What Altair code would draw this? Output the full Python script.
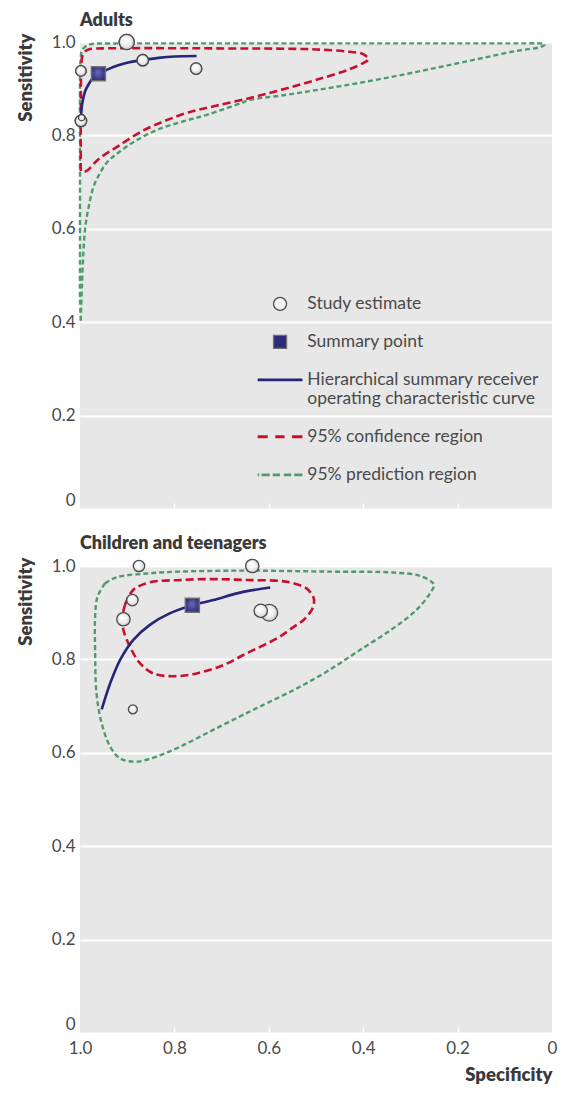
import altair as alt
import pandas as pd

SERIES = ["Study estimate", "Summary point",
          "Hierarchical summary receiver operating characteristic curve",
          "95% confidence region", "95% prediction region"]
TICKS = [1.0, 0.8, 0.6, 0.4, 0.2, 0.0]

# ---------------- Adults ----------------
adult_study_spec = [0.901, 0.867, 0.754, 0.998, 0.998, 0.9965]
adult_study_sens = [1.000, 0.961, 0.943, 0.938, 0.831, 0.838]
adult_study_weight = [23, 13, 13, 11, 13, 4]
adult_summary_spec = [0.961]
adult_summary_sens = [0.932]
adult_curve_spec = [0.998, 0.995, 0.989, 0.982, 0.975, 0.968, 0.961, 0.940, 0.919,
                    0.898, 0.869, 0.834, 0.799, 0.753]
adult_curve_sens = [0.838, 0.870, 0.895, 0.909, 0.920, 0.927, 0.932, 0.942, 0.950,
                    0.956, 0.961, 0.966, 0.969, 0.970]
adult_conf_spec = [0.9985, 0.9985, 0.9985, 0.998, 0.997, 0.995, 0.989, 0.982, 0.968,
                   0.941, 0.850, 0.746, 0.650, 0.570, 0.499, 0.428, 0.400, 0.389,
                   0.400, 0.428, 0.499, 0.569, 0.640, 0.714, 0.771, 0.820, 0.869,
                   0.919, 0.961, 0.986, 0.996, 0.9985]
adult_conf_sens = [0.724, 0.780, 0.831, 0.916, 0.955, 0.970, 0.980, 0.984, 0.986,
                   0.9865, 0.9868, 0.9865, 0.986, 0.9857, 0.984, 0.979, 0.974, 0.963,
                   0.955, 0.942, 0.919, 0.899, 0.880, 0.863, 0.849, 0.831, 0.809,
                   0.777, 0.749, 0.724, 0.722, 0.724]
adult_pred_spec = [0.9985, 1.0, 1.0, 1.0, 1.0, 0.999, 0.996, 0.989, 0.975, 0.936,
                   0.800, 0.534, 0.300, 0.068, 0.025, 0.015, 0.025, 0.075, 0.146,
                   0.216, 0.287, 0.357, 0.428, 0.499, 0.569, 0.640, 0.657, 0.728,
                   0.778, 0.834, 0.883, 0.919, 0.943, 0.961, 0.972, 0.982, 0.989,
                   0.993, 0.996, 0.9985]
adult_pred_sens = [0.403, 0.450, 0.552, 0.767, 0.916, 0.959, 0.981, 0.990, 0.9957,
                   0.9968, 0.997, 0.997, 0.997, 0.997, 0.997, 0.995, 0.989, 0.981,
                   0.966, 0.951, 0.936, 0.922, 0.909, 0.897, 0.886, 0.876, 0.870,
                   0.845, 0.831, 0.813, 0.788, 0.763, 0.742, 0.713, 0.688, 0.645,
                   0.602, 0.546, 0.474, 0.403]

# ---------------- Children and teenagers ----------------
child_study_spec = [0.875, 0.635, 0.889, 0.908, 0.888, 0.599, 0.617]
child_study_sens = [1.000, 1.000, 0.927, 0.886, 0.693, 0.900, 0.904]
child_study_weight = [13, 18, 13, 18, 8, 28, 18]
child_summary_spec = [0.762]
child_summary_sens = [0.916]
child_curve_spec = [0.954, 0.936, 0.915, 0.887, 0.852, 0.809, 0.762, 0.718, 0.661, 0.597]
child_curve_sens = [0.693, 0.749, 0.799, 0.842, 0.874, 0.899, 0.916, 0.927, 0.943, 0.954]
child_conf_spec = [0.905, 0.887, 0.852, 0.788, 0.718, 0.647, 0.576, 0.548, 0.520, 0.506,
                   0.504, 0.509, 0.527, 0.548, 0.581, 0.647, 0.696, 0.753, 0.802, 0.845,
                   0.873, 0.894, 0.908, 0.910, 0.905]
child_conf_sens = [0.916, 0.949, 0.965, 0.970, 0.972, 0.970, 0.968, 0.963, 0.952, 0.934,
                   0.924, 0.906, 0.884, 0.869, 0.846, 0.813, 0.788, 0.770, 0.764, 0.770,
                   0.792, 0.827, 0.863, 0.891, 0.916]
child_pred_spec = [0.947, 0.922, 0.859, 0.788, 0.682, 0.619, 0.477, 0.336, 0.280, 0.255,
                   0.250, 0.258, 0.287, 0.336, 0.407, 0.477, 0.548, 0.619, 0.647, 0.718,
                   0.788, 0.838, 0.880, 0.915, 0.936, 0.954, 0.965, 0.968, 0.968, 0.963,
                   0.947]
child_pred_sens = [0.963, 0.976, 0.984, 0.988, 0.990, 0.990, 0.988, 0.986, 0.979, 0.966,
                   0.959, 0.942, 0.906, 0.867, 0.820, 0.774, 0.734, 0.699, 0.685, 0.649,
                   0.613, 0.592, 0.581, 0.588, 0.613, 0.663, 0.727, 0.820, 0.891, 0.934,
                   0.963]

# ---------------- styling ----------------
BG = "#e7e7e7"
NAVY = "#25257a"
RED = "#c8102e"
GREEN = "#4f9b6f"
TXT = "#4a4a4a"
TTL = "#3a3a3a"
FONT = "Lato"
TW = 800

LABEL_EXPR = "datum.value == 0 ? '0' : format(datum.value, '.1f')"
TICK_COLOR = {"condition": {"test": "datum.value == 0 || datum.value == 1",
                            "value": "transparent"}, "value": "white"}
Y_BASELINE = {"condition": {"test": "datum.value == 0", "value": "bottom"},
              "value": "middle"}

# legend symbol shapes (custom symbol paths in the unit square)
NAVY_PATH = "M-3.43,-0.22H3.43V0.22H-3.43Z"
RED_PATH = ("M-3.43,-0.23H-1.89V0.23H-3.43Z M-0.73,-0.23H0.69V0.23H-0.73Z "
            "M1.83,-0.23H3.43V0.23H1.83Z")
GREEN_PATH = ("M-3.43,-0.21H-3.21V0.21H-3.43Z M-2.85,-0.21H-1.59V0.21H-2.85Z "
              "M-1.13,-0.21H0V0.21H-1.13Z M0.58,-0.21H1.72V0.21H0.58Z "
              "M2.17,-0.21H3.43V0.21H2.17Z")

SPHERE = alt.RadialGradient(
    gradient="radial", x1=0.4, y1=0.35, r1=0, x2=0.5, y2=0.5, r2=0.6,
    stops=[alt.GradientStop(offset=0, color="#ffffff"),
           alt.GradientStop(offset=0.5, color="#f1f1f1"),
           alt.GradientStop(offset=1, color="#b9b9b9")])
NAVY_GRAD = alt.RadialGradient(
    gradient="radial", x1=0.45, y1=0.4, r1=0, x2=0.5, y2=0.5, r2=0.7,
    stops=[alt.GradientStop(offset=0, color="#6a6ab8"),
           alt.GradientStop(offset=1, color="#1c1c66")])


def path_df(spec, sens):
    return pd.DataFrame({"spec": spec, "sens": sens, "order": list(range(len(spec)))})


def study_df(spec, sens, weight):
    return pd.DataFrame({"spec": spec, "sens": sens, "weight": weight,
                         "series": [SERIES[0]] * len(spec)})


def y_enc():
    return alt.Y("sens:Q", scale=alt.Scale(domain=[0, 1], nice=False, zero=False),
                 axis=alt.Axis(values=TICKS, labelExpr=LABEL_EXPR, labelBaseline=Y_BASELINE,
                               labelPadding=5, ticks=False, domain=False, grid=True,
                               gridColor="white", gridWidth=2, labelFontSize=17,
                               labelColor=TXT, labelFont=FONT,
                               title="Sensitivity", titleAngle=270, titleX=-55, titleY=-9,
                               titleAlign="right", titleBaseline="middle",
                               titleFontSize=18.5, titleFontWeight=TW,
                               titleColor=TTL, titleFont=FONT))


def x_enc(show_labels):
    common = dict(values=TICKS, offset=-6, tickSize=6, tickWidth=1.5,
                  tickColor=TICK_COLOR, domain=False, grid=False)
    if show_labels:
        axis = alt.Axis(labelExpr=LABEL_EXPR, labelPadding=7, labelFlush=False,
                        labelFontSize=17, labelColor=TXT, labelFont=FONT,
                        title="Specificity", titleAnchor="start", titleAlign="right",
                        titlePadding=9,
                        titleFontSize=18.5, titleFontWeight=TW, titleColor=TTL,
                        titleFont=FONT, **common)
    else:
        axis = alt.Axis(labels=False, title=None, **common)
    return alt.X("spec:Q", scale=alt.Scale(domain=[0, 1], reverse=True, nice=False,
                                           zero=False), axis=axis)


SIZE = alt.Size("weight:Q", scale=alt.Scale(domain=[0, 30], range=[0, 300]), legend=None)


def panel(title, title_offset, pred, conf, curve, studies, summary, show_labels,
          with_legend):
    X = x_enc(show_labels)
    Y = y_enc()
    pred_l = alt.Chart(pred).mark_line(color=GREEN, strokeDash=[5, 3], strokeWidth=2.4,
                                       interpolate="catmull-rom").encode(X, Y, order="order:Q")
    conf_l = alt.Chart(conf).mark_line(color=RED, strokeDash=[8, 4], strokeWidth=2.6,
                                       interpolate="catmull-rom").encode(X, Y, order="order:Q")
    curve_l = alt.Chart(curve).mark_line(color=NAVY, strokeWidth=2.6,
                                         interpolate="catmull-rom").encode(X, Y, order="order:Q")
    layers = [pred_l, conf_l, curve_l]
    if with_legend:
        leg = alt.Legend(title=None, orient="none", legendX=191.3, legendY=253.1,
                         padding=0, offset=0, symbolSize=170, symbolStrokeWidth=1.3,
                         symbolOpacity=1, labelFont=FONT, labelFontSize=17.5,
                         labelColor=TXT, labelOffset=18.5, labelLimit=400, rowPadding=19,
                         labelBaseline="middle",
                         labelExpr="datum.value == '" + SERIES[2] + "' ? "
                                   "['Hierarchical summary receiver', "
                                   "'operating characteristic curve'] : datum.label")
        flat = alt.Chart(studies).mark_point(filled=True, opacity=1, strokeWidth=1.3).encode(
            X, Y, SIZE,
            shape=alt.Shape("series:N", legend=leg, scale=alt.Scale(
                domain=SERIES, range=["circle", "square", NAVY_PATH, RED_PATH, GREEN_PATH])),
            fill=alt.Fill("series:N", legend=leg, scale=alt.Scale(
                domain=SERIES, range=["#f2f2f2", "#2b2b7a", NAVY, RED, GREEN])),
            stroke=alt.Stroke("series:N", legend=leg, scale=alt.Scale(
                domain=SERIES, range=["#4a4a4a", "#707070", "transparent",
                                      "transparent", "transparent"])))
        layers.append(flat)
    grad = alt.Chart(studies).mark_point(shape="circle", filled=True, opacity=1,
                                         fill=SPHERE, stroke="#4a4a4a",
                                         strokeWidth=1.3).encode(X, Y, SIZE)
    summ = alt.Chart(summary).mark_point(shape="square", filled=True, opacity=1,
                                         fill=NAVY_GRAD, stroke="#707070", strokeWidth=1.5,
                                         size=196).encode(X, Y)
    layers += [grad, summ]
    return alt.layer(*layers).properties(
        width=472, height=467,
        title=alt.TitleParams(title, anchor="start", frame="group", fontSize=18,
                              fontWeight=TW, color=TTL, font=FONT, offset=title_offset))


top = panel("Adults", 2,
            path_df(adult_pred_spec, adult_pred_sens),
            path_df(adult_conf_spec, adult_conf_sens),
            path_df(adult_curve_spec, adult_curve_sens),
            study_df(adult_study_spec, adult_study_sens, adult_study_weight),
            pd.DataFrame({"spec": adult_summary_spec, "sens": adult_summary_sens}),
            show_labels=False, with_legend=True)

bottom = panel("Children and teenagers", 4,
               path_df(child_pred_spec, child_pred_sens),
               path_df(child_conf_spec, child_conf_sens),
               path_df(child_curve_spec, child_curve_sens),
               study_df(child_study_spec, child_study_sens, child_study_weight),
               pd.DataFrame({"spec": child_summary_spec, "sens": child_summary_sens}),
               show_labels=True, with_legend=False)

chart = alt.vconcat(top, bottom, spacing=24).resolve_legend(
    fill="independent", stroke="independent", shape="independent"
).properties(
    padding={"left": 8, "top": 3, "right": 0, "bottom": 0}
).configure(background="white").configure_view(fill=BG, stroke=None)

chart.save("out.html", embed_options={"renderer": "svg", "actions": False})
